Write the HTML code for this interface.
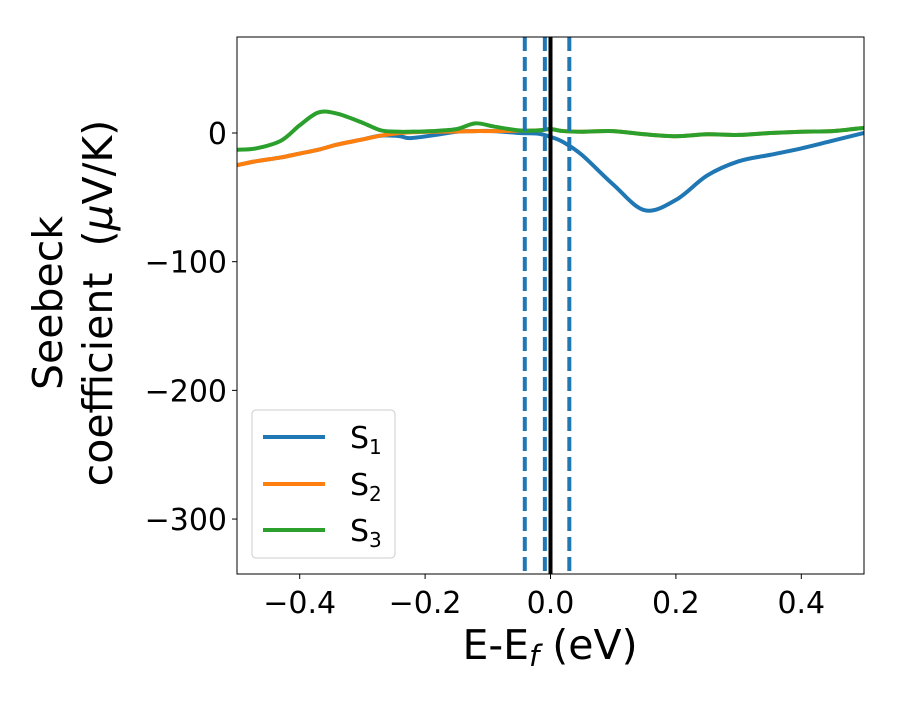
<!DOCTYPE html>
<html><head><meta charset="utf-8"><style>
body{margin:0;background:#fff}
svg text{font-family:"DejaVu Sans","Liberation Sans",sans-serif;fill:#000}
</style></head><body>
<svg id="chart" width="900" height="700">
<g id="plot"></g>
<text x="550" y="659" text-anchor="middle" font-size="41">E-E<tspan font-style="italic" font-size="29" dy="7">f</tspan><tspan dy="-7"> (eV)</tspan></text>
<g transform="translate(62,303) rotate(-90)">
<text x="0" y="0" text-anchor="middle" font-size="41">Seebeck</text>
<text x="0" y="50" text-anchor="middle" font-size="41" xml:space="preserve">coefficient  (<tspan font-style="italic">μ</tspan>V/K)</text>
</g>
<g>
<rect x="252" y="410" width="143" height="148" rx="4" fill="#fff" fill-opacity="0.8" stroke="#ccc" stroke-width="1"/>
<g><line x1="263" x2="325" y1="437" y2="437" stroke="#1f77b4" stroke-width="4"/><text x="350" y="448" font-size="30">S<tspan font-size="20" dy="6">1</tspan></text></g>
<g><line x1="263" x2="325" y1="484" y2="484" stroke="#ff7f0e" stroke-width="4"/><text x="350" y="495" font-size="30">S<tspan font-size="20" dy="6">2</tspan></text></g>
<g><line x1="263" x2="325" y1="530" y2="530" stroke="#2ca02c" stroke-width="4"/><text x="350" y="541" font-size="30">S<tspan font-size="20" dy="6">3</tspan></text></g>
</g>
</svg>
<script>
const xs = [-0.5,-0.47,-0.43,-0.4,-0.37,-0.34,-0.3,-0.27,-0.24,-0.225,-0.19,-0.15,-0.12,-0.09,-0.05,-0.02,0,0.02,0.05,0.1,0.15,0.2,0.25,0.3,0.35,0.4,0.45,0.5];
const s1 = [-25,-22,-19,-16,-13,-9,-5,-2,-2.5,-4,-2,1,1.5,1.5,0,-0.5,-3,-7,-17,-40,-60,-52,-33,-22,-17,-12,-6,0];
const s2 = [-25,-22,-19,-16,-13,-9,-5,-2,0,0.5,1,1.2,1.5,1.5,1.8,2,3,1.5,1,1.5,-1,-2.5,-1,-1.5,0,1,1.5,4];
const s3 = [-13,-12,-6,6,16,15,8,2,1,1,1.5,3,7.5,5,2,2,3,1.5,1,1.5,-1,-2.5,-1,-1.5,0,1,1.5,4];
const xTicks = [-0.4,-0.2,0.0,0.2,0.4];
const xTickLabels = ["−0.4","−0.2","0.0","0.2","0.4"];
const yTicks = [0,-100,-200,-300];
const yTickLabels = ["0","−100","−200","−300"];
const vDashed = [-0.041,-0.009,0.03];
const L=237,R=864,T=37,B=574,xmin=-0.5,xmax=0.5,ymin=-342.7,ymax=74.6;
const X=v=>L+(v-xmin)/(xmax-xmin)*(R-L);
const Y=v=>T+(ymax-v)/(ymax-ymin)*(B-T);
const NS="http://www.w3.org/2000/svg";
const g=document.getElementById('plot');
function mk(t,a,p){const e=document.createElementNS(NS,t);for(const k in a)e.setAttribute(k,a[k]);(p||g).appendChild(e);return e;}
const clip=mk('clipPath',{id:'cp'});mk('rect',{x:L,y:T,width:R-L,height:B-T},clip);
function path(vals){const p=xs.map((x,i)=>[X(x),Y(vals[i])]);let d=`M${p[0][0]},${p[0][1]}`;
for(let i=0;i<p.length-1;i++){const p0=p[Math.max(0,i-1)],p1=p[i],p2=p[i+1],p3=p[Math.min(p.length-1,i+2)];
d+=` C${p1[0]+(p2[0]-p0[0])/6},${p1[1]+(p2[1]-p0[1])/6} ${p2[0]-(p3[0]-p1[0])/6},${p2[1]-(p3[1]-p1[1])/6} ${p2[0]},${p2[1]}`;}return d;}
const series=[[s1,'#1f77b4','series-s1'],[s2,'#ff7f0e','series-s2'],[s3,'#2ca02c','series-s3']];
series.forEach(s=>{const e=mk('path',{d:path(s[0]),fill:'none',stroke:s[1],'stroke-width':4,'stroke-linejoin':'round','clip-path':'url(#cp)'});

});
vDashed.forEach((v,i)=>{const e=mk('line',{x1:X(v),x2:X(v),y1:T,y2:B,stroke:'#1f77b4','stroke-width':4,'stroke-dasharray':'14,6'});

});
const f=mk('line',{x1:X(0),x2:X(0),y1:T,y2:B,stroke:'#000','stroke-width':4});


const fr=mk('rect',{x:L,y:T,width:R-L,height:B-T,fill:'none',stroke:'#000','stroke-width':1});


xTicks.forEach((v,i)=>{mk('line',{x1:X(v),x2:X(v),y1:B,y2:B+5,stroke:'#000'});
const t=mk('text',{x:X(v),y:B+39,'text-anchor':'middle','font-size':30});t.textContent=xTickLabels[i];

});
yTicks.forEach((v,i)=>{mk('line',{x1:L-5,x2:L,y1:Y(v),y2:Y(v),stroke:'#000'});
const t=mk('text',{x:L-10,y:Y(v)+11,'text-anchor':'end','font-size':30});t.textContent=yTickLabels[i];

});
</script>
</body></html>
